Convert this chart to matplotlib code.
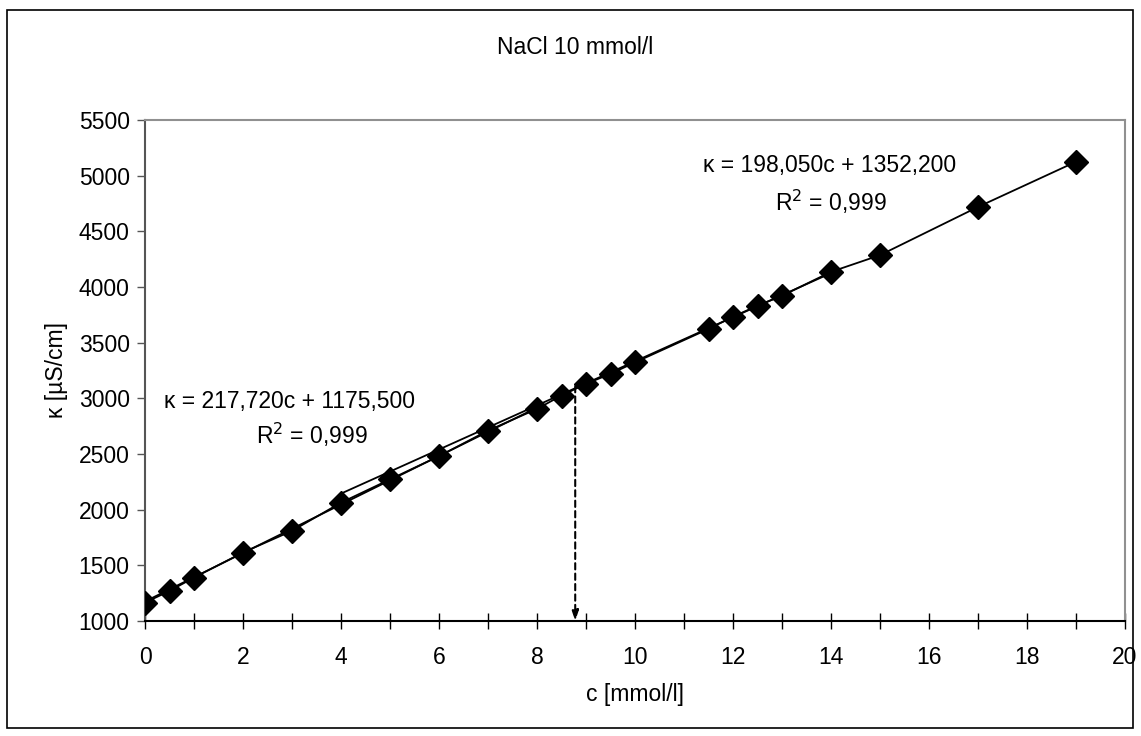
import numpy as np
import matplotlib
matplotlib.use('Agg')
import matplotlib.pyplot as plt
from matplotlib.patches import Rectangle

plt.rcParams['font.family'] = ['Liberation Sans', 'DejaVu Sans']

# measured data
c = [0, 0.5, 1, 2, 3, 4, 5, 6, 7, 8, 8.5, 9, 9.5, 10, 11.5, 12, 12.5, 13, 14, 15, 17, 19]
kappa = [1165, 1270, 1390, 1615, 1810, 2063, 2272, 2481, 2710, 2905, 3025,
         3130, 3220, 3323, 3623, 3733, 3832, 3921, 4136, 4286, 4719, 5125]

# linear fits (from Excel)
fitA = (217.72, 1175.5)
fitA_range = (0, 8)
fitB = (198.05, 1352.2)
fitB_range = (4, 14)

c_read = 8.78
xticks = np.arange(0, 21, 2)
yticks = np.arange(1000, 5501, 500)

FS = 16.5


def main():
    fig = plt.figure(figsize=(11.41, 7.36), dpi=100)
    ax = fig.add_axes([145 / 1141, 1 - 621 / 736, 980 / 1141, 501 / 736])

    # outer chart border
    fig.patches.append(Rectangle((7 / 1141, 1 - 728 / 736), 1126 / 1141, 718 / 736,
                                 transform=fig.transFigure, fill=False,
                                 edgecolor='black', linewidth=1.2))

    for (m, b), (x0, x1) in [(fitA, fitA_range), (fitB, fitB_range)]:
        xs = np.array([x0, x1])
        ax.plot(xs, m * xs + b, color='black', linewidth=1.3, zorder=2)

    ax.plot(c, kappa, color='black', linewidth=1.3, marker='D', markersize=12.5,
            markerfacecolor='black', markeredgecolor='black', zorder=3)

    ax.annotate('', xy=(c_read, 1000), xytext=(c_read, 3110),
                arrowprops=dict(arrowstyle='-|>,head_length=0.6,head_width=0.2',
                                linestyle=(0, (3, 2)), linewidth=1.5, color='black',
                                shrinkA=0, shrinkB=0), zorder=1)

    ax.text(2.95, 2975, 'κ = 217,720c + 1175,500', fontsize=FS, ha='center', va='center')
    ax.text(3.4, 2670, 'R$^2$ = 0,999', fontsize=FS, ha='center', va='center')
    ax.text(13.97, 5095, 'κ = 198,050c + 1352,200', fontsize=FS, ha='center', va='center')
    ax.text(14.0, 4765, 'R$^2$ = 0,999', fontsize=FS, ha='center', va='center')

    ax.set_xlim(0, 20)
    ax.set_ylim(1000, 5500)
    ax.set_xticks(xticks)
    ax.set_xticks(np.arange(1, 20, 2), minor=True)
    ax.set_yticks(yticks)
    ax.tick_params(axis='x', direction='inout', length=12, width=1, labelsize=FS, pad=12)
    ax.tick_params(axis='x', which='minor', direction='inout', length=12, width=1)
    ax.tick_params(axis='y', direction='out', length=6, width=1, labelsize=FS, pad=5,
                   color='#555555')

    for s in ['top', 'right']:
        ax.spines[s].set_color('#909090')
        ax.spines[s].set_linewidth(1.5)
    ax.spines['left'].set_color('#555555')
    ax.spines['left'].set_linewidth(1.5)
    ax.spines['bottom'].set_color('black')
    ax.spines['bottom'].set_linewidth(1.5)

    ax.set_xlabel('c [mmol/l]', fontsize=FS, labelpad=10)
    ax.set_ylabel('κ [µS/cm]', fontsize=FS, labelpad=8)
    fig.text(575 / 1141, 1 - 47 / 736, 'NaCl 10 mmol/l', fontsize=FS,
             ha='center', va='center')

    fig.savefig('out.png', dpi=100)


if __name__ == '__main__':
    main()
